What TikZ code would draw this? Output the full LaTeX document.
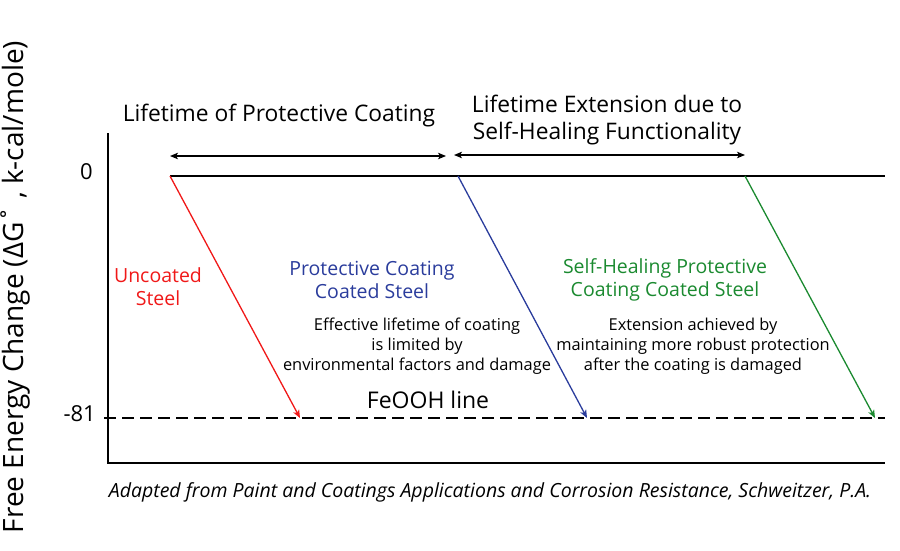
\documentclass[tikz,border=0pt]{standalone}
\usepackage{fontspec}
\setmainfont{Open Sans}
\usepackage{xcolor}
\usepackage{tikz}
\usetikzlibrary{arrows.meta}
\definecolor{uncoated}{HTML}{F01818}
\definecolor{coated}{HTML}{2A3C9C}
\definecolor{healing}{HTML}{1B8A30}

\begin{document}
\begin{tikzpicture}[x=1pt,y=-1pt,
    tip/.style={-{Stealth[length=8pt,width=6.5pt,inset=2pt]}},
    span/.style={line width=1.2pt,{Stealth[length=8pt,width=6.5pt,inset=2pt]}-{Stealth[length=8pt,width=6.5pt,inset=2pt]}},
    lbl/.style={align=center,inner sep=0pt,font=\fontsize{19.5}{23}\selectfont}]
    \useasboundingbox (0,0) rectangle (900,550);
    % axes
    \coordinate (top) at (108,133);
    \coordinate (origin) at (108,463);
    \coordinate (right) at (885,463);
    \draw[line width=2pt] (top) -- (origin) -- (right);
    % zero level and FeOOH level
    \coordinate (zend) at (885,176);
    \coordinate (fbeg) at (104,418);
    \coordinate (fend) at (885,418);
    \foreach \x[count=\i from 0] in {170,458,745}
        \coordinate (z\i) at (\x,176);
    \foreach \x[count=\i from 0] in {300,587,875}
        \coordinate (f\i) at (\x,418);
    \draw[line width=1.8pt] (z0) -- (zend);
    \draw[line width=1.6pt,dash pattern=on 12pt off 6pt] (fbeg) -- (fend);
    % decay of each steel
    \foreach \i/\c in {0/uncoated,1/coated,2/healing}
        \draw[\c,line width=1.3pt,tip] (z\i) -- (f\i);
    % lifetimes
    \coordinate (l0) at (170,156);
    \coordinate (l1) at (446,156);
    \coordinate (l2) at (454,155);
    \coordinate (l3) at (745,155);
    \draw[span] (l0) -- (l1);
    \draw[span] (l2) -- (l3);
    \node[lbl,font=\fontsize{22.8}{27}\selectfont] (life) at (279,116) {Lifetime of Protective Coating};
    \node[lbl,font=\fontsize{22.8}{27}\selectfont] (ext) at (607,120) {Lifetime Extension due to\\Self-Healing Functionality};
    % tick labels
    \node[lbl,font=\fontsize{22}{24}\selectfont,anchor=east] (zero) at (93,172) {0};
    \node[lbl,font=\fontsize{22}{24}\selectfont,anchor=east] (ffo) at (96,414) {-81};
    \node[lbl,font=\fontsize{28}{32}\selectfont,rotate=90] (ylab) at (15,287) {Free Energy Change (ΔG˚ , k-cal/mole)};
    % curve labels
    \node[lbl,text=uncoated] (unc) at (158,287) {Uncoated\\Steel};
    \node[lbl,text=coated] (coat) at (372,280) {Protective Coating\\Coated Steel};
    \node[lbl,text=healing] (heal) at (665,280) {Self-Healing Protective\\Coating Coated Steel};
    \node[lbl,font=\fontsize{16.4}{20}\selectfont] (note1) at (417,346) {Effective lifetime of coating\\is limited by\\environmental factors and damage};
    \node[lbl,font=\fontsize{16.4}{20}\selectfont] (note2) at (693,346) {Extension achieved by\\maintaining more robust protection\\after the coating is damaged};
    \node[lbl,font=\fontsize{23}{26}\selectfont] (feooh) at (428,400) {FeOOH line};
    \node[lbl,font=\fontsize{19.5}{22}\selectfont\itshape] (src) at (490,492) {Adapted from Paint and Coatings Applications and Corrosion Resistance, Schweitzer, P.A.};
\end{tikzpicture}
\end{document}
